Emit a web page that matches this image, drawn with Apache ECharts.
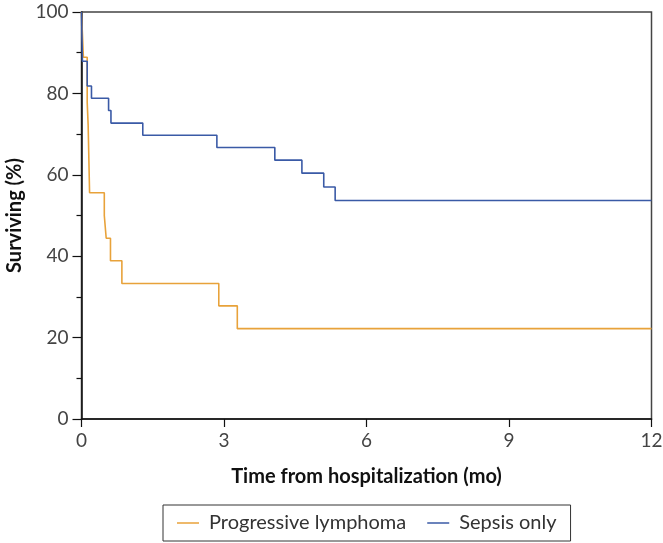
<!DOCTYPE html>
<html>
<head>
<meta charset="utf-8">
<script src="https://cdn.jsdelivr.net/npm/echarts@6/dist/echarts.min.js"></script>
<style>
html,body{margin:0;padding:0;background:#fff;}
#chart{width:663px;height:543px;}
</style>
</head>
<body>
<div id="chart"></div>
<script>
// Kaplan-Meier style step data (time in months, survival %)
var lymphomaTimes = [0, 0.04, 0.12, 0.14, 0.17, 0.48, 0.52, 0.61, 0.85, 2.89, 3.28, 12];
var lymphomaSurv  = [100, 88.9, 77.8, 72.2, 55.6, 50.0, 44.4, 38.9, 33.3, 27.8, 22.2, 22.2];
var sepsisTimes = [0, 0.02, 0.12, 0.21, 0.57, 0.62, 1.29, 2.85, 4.07, 4.64, 5.10, 5.34, 12];
var sepsisSurv  = [100, 87.9, 81.8, 78.8, 75.8, 72.7, 69.7, 66.7, 63.6, 60.4, 57.0, 53.7, 53.7];
var seriesNames = ['Progressive lymphoma', 'Sepsis only'];
var xTicks = [0, 3, 6, 9, 12];
var yTicks = [0, 20, 40, 60, 80, 100];

function pairs(t, s) { return t.map(function (v, i) { return [v, s[i]]; }); }

var chart = echarts.init(document.getElementById('chart'), null, {renderer: 'canvas'});
var font = 'Lato, "Open Sans", sans-serif';
chart.setOption({
  animation: false,
  backgroundColor: '#fff',
  grid: {left: 81.5, right: 11.5, top: 12, bottom: 124, containLabel: false, outerBoundsMode: 'none',
         show: true, borderColor: '#444', borderWidth: 1.5, backgroundColor: 'transparent'},
  legend: {
    data: seriesNames,
    left: 163, top: 505,
    orient: 'horizontal',
    icon: 'rect', itemWidth: 22, itemHeight: 1.5, itemGap: 21,
    borderColor: '#333', borderWidth: 1, borderRadius: 0,
    padding: [8, 14, 8, 14],
    textStyle: {fontFamily: font, fontSize: 20, color: '#333', padding: [0, 0, 0, 5]}
  },
  xAxis: {
    type: 'value', min: xTicks[0], max: xTicks[xTicks.length - 1], interval: 3,
    name: 'Time from hospitalization (mo)', nameLocation: 'middle', nameGap: 48,
    nameTextStyle: {fontFamily: font, fontSize: 20, fontWeight: 'bold', color: '#111'},
    axisLine: {show: true, lineStyle: {color: '#111', width: 1.5}},
    axisTick: {show: true, length: 8, lineStyle: {color: '#111', width: 1.2}},
    axisLabel: {fontFamily: font, fontSize: 19, color: '#444', margin: 12},
    splitLine: {show: false}
  },
  yAxis: {
    type: 'value', min: yTicks[0], max: yTicks[yTicks.length - 1], interval: 20,
    name: 'Surviving (%)', nameLocation: 'middle', nameGap: 49, nameRotate: 90,
    nameTextStyle: {fontFamily: font, fontSize: 20, fontWeight: 'bold', color: '#111'},
    axisLine: {show: true, lineStyle: {color: '#111', width: 1.5}},
    axisTick: {show: true, length: 9, lineStyle: {color: '#111', width: 1.2}},
    minorTick: {show: true, splitNumber: 2, length: 5, lineStyle: {color: '#111', width: 1.2}},
    axisLabel: {fontFamily: font, fontSize: 19, color: '#444', margin: 13},
    splitLine: {show: false}
  },
  series: [
    {
      name: seriesNames[0], type: 'line', step: 'end', showSymbol: false, symbol: 'none',
      data: pairs(lymphomaTimes, lymphomaSurv),
      itemStyle: {color: '#E8A23A'},
      lineStyle: {color: '#E8A23A', width: 1.6}
    },
    {
      name: seriesNames[1], type: 'line', step: 'end', showSymbol: false, symbol: 'none',
      data: pairs(sepsisTimes, sepsisSurv),
      itemStyle: {color: '#3A5AA6'},
      lineStyle: {color: '#3A5AA6', width: 1.6}
    }
  ]
});
</script>
</body>
</html>
